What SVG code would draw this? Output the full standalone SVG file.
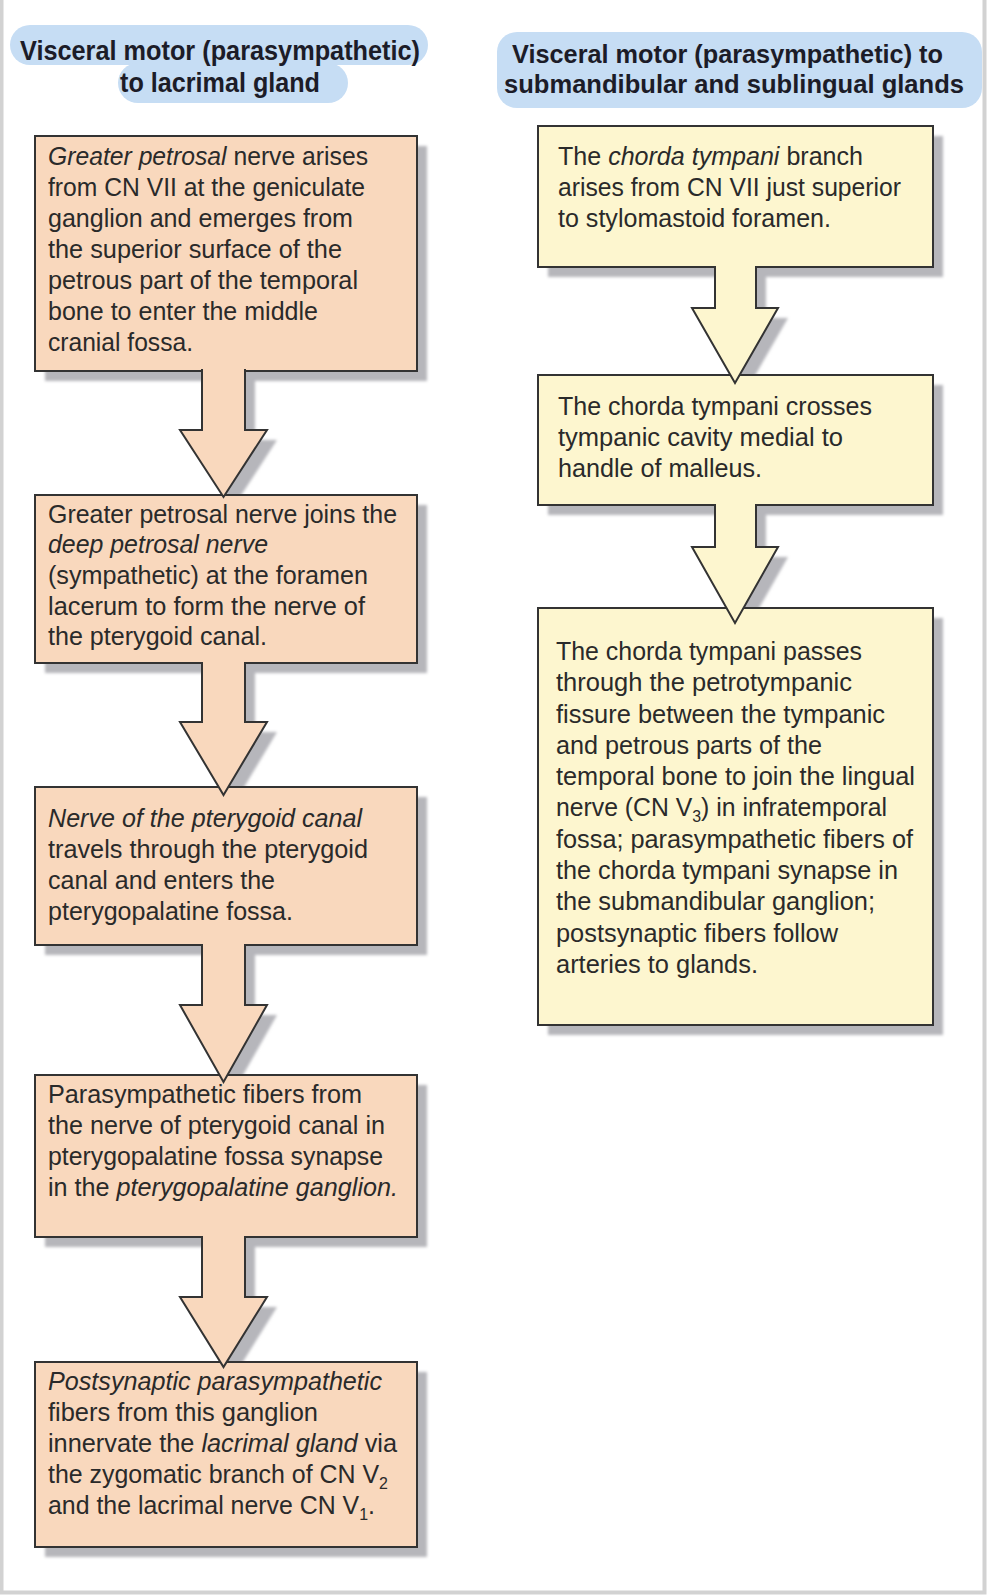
<svg xmlns="http://www.w3.org/2000/svg" width="988" height="1596" viewBox="0 0 988 1596">
<style>
.t{font-family:"Liberation Sans",Arial,sans-serif;font-size:25px;fill:#2a2a2a}
.h{font-family:"Liberation Sans",Arial,sans-serif;font-size:28px;font-weight:bold;fill:#1c1c28}
.h2{font-size:26.5px}
.i{font-style:italic}
.pk{fill:#f9d8bd;stroke:#333;stroke-width:2}
.yl{fill:#fdf6cf;stroke:#333;stroke-width:2}
.sh{fill:#b6b6bb}
.hd{fill:#c6ddf4}
.sub{font-size:16px}
</style>
<defs>
<filter id="blur" x="-5%" y="-5%" width="110%" height="110%"><feGaussianBlur stdDeviation="1.5"/></filter>
</defs>
<rect width="988" height="1596" fill="#ffffff"/>
<path d="M1.5,0 V1592.5 H984.5 V0" fill="none" stroke="#d2d2d2" stroke-width="4"/>

<g id="shadows" filter="url(#blur)">
<rect class="sh" x="45" y="146" width="382" height="235"/>
<rect class="sh" x="45" y="505" width="382" height="168"/>
<rect class="sh" x="45" y="797" width="382" height="158"/>
<rect class="sh" x="45" y="1085" width="382" height="162"/>
<rect class="sh" x="45" y="1372" width="382" height="185"/>
<rect class="sh" x="548" y="136" width="395" height="141"/>
<rect class="sh" x="548" y="385" width="395" height="130"/>
<rect class="sh" x="548" y="618" width="395" height="417"/>
<path class="sh" d="M212,380 V440 H190 L233.5,507 L277,440 H255 V380 Z"/>
<path class="sh" d="M212,673 V732 H190 L233.5,805 L277,732 H255 V673 Z"/>
<path class="sh" d="M212,955 V1015 H190 L233.5,1092 L277,1015 H255 V955 Z"/>
<path class="sh" d="M212,1247 V1307 H190 L233.5,1377 L277,1307 H255 V1247 Z"/>
<path class="sh" d="M725,277 V318 H702 L745,393 L788,318 H766 V277 Z"/>
<path class="sh" d="M725,515 V557 H702 L745,633 L788,557 H766 V515 Z"/>
</g>

<g id="header-left">
<rect class="hd" x="10" y="25" width="418" height="40" rx="20"/>
<rect class="hd" x="118" y="63" width="230" height="40" rx="20"/>
<text class="h" x="20" y="60" textLength="400" lengthAdjust="spacingAndGlyphs">Visceral motor (parasympathetic)</text>
<text class="h" x="120" y="92" textLength="200" lengthAdjust="spacingAndGlyphs">to lacrimal gland</text>
</g>

<g id="header-right">
<rect class="hd" x="497" y="32" width="485" height="76" rx="20"/>
<text class="h h2" x="512" y="63" textLength="431" lengthAdjust="spacingAndGlyphs">Visceral motor (parasympathetic) to</text>
<text class="h h2" x="504" y="93" textLength="460" lengthAdjust="spacingAndGlyphs">submandibular and sublingual glands</text>
</g>

<g id="L1">
<rect class="pk" x="35" y="136" width="382" height="235"/>
<text class="t" x="48" y="165" textLength="320" lengthAdjust="spacingAndGlyphs"><tspan class="i">Greater petrosal</tspan> nerve arises</text>
<text class="t" x="48" y="196" textLength="317" lengthAdjust="spacingAndGlyphs">from CN VII at the geniculate</text>
<text class="t" x="48" y="227" textLength="305" lengthAdjust="spacingAndGlyphs">ganglion and emerges from</text>
<text class="t" x="48" y="258" textLength="294" lengthAdjust="spacingAndGlyphs">the superior surface of the</text>
<text class="t" x="48" y="289" textLength="310" lengthAdjust="spacingAndGlyphs">petrous part of the temporal</text>
<text class="t" x="48" y="320" textLength="270" lengthAdjust="spacingAndGlyphs">bone to enter the middle</text>
<text class="t" x="48" y="351" textLength="145" lengthAdjust="spacingAndGlyphs">cranial fossa.</text>
</g>

<g id="L2">
<rect class="pk" x="35" y="495" width="382" height="168"/>
<text class="t" x="48" y="523" textLength="349" lengthAdjust="spacingAndGlyphs">Greater petrosal nerve joins the</text>
<text class="t i" x="48" y="553" textLength="220" lengthAdjust="spacingAndGlyphs">deep petrosal nerve</text>
<text class="t" x="48" y="584" textLength="320" lengthAdjust="spacingAndGlyphs">(sympathetic) at the foramen</text>
<text class="t" x="48" y="615" textLength="317" lengthAdjust="spacingAndGlyphs">lacerum to form the nerve of</text>
<text class="t" x="48" y="645" textLength="219" lengthAdjust="spacingAndGlyphs">the pterygoid canal.</text>
</g>

<g id="L3">
<rect class="pk" x="35" y="787" width="382" height="158"/>
<text class="t i" x="48" y="827" textLength="314" lengthAdjust="spacingAndGlyphs">Nerve of the pterygoid canal</text>
<text class="t" x="48" y="858" textLength="320" lengthAdjust="spacingAndGlyphs">travels through the pterygoid</text>
<text class="t" x="48" y="889" textLength="227" lengthAdjust="spacingAndGlyphs">canal and enters the</text>
<text class="t" x="48" y="920" textLength="245" lengthAdjust="spacingAndGlyphs">pterygopalatine fossa.</text>
</g>

<g id="L4">
<rect class="pk" x="35" y="1075" width="382" height="162"/>
<text class="t" x="48" y="1103" textLength="314" lengthAdjust="spacingAndGlyphs">Parasympathetic fibers from</text>
<text class="t" x="48" y="1134" textLength="337" lengthAdjust="spacingAndGlyphs">the nerve of pterygoid canal in</text>
<text class="t" x="48" y="1165" textLength="335" lengthAdjust="spacingAndGlyphs">pterygopalatine fossa synapse</text>
<text class="t" x="48" y="1196" textLength="350" lengthAdjust="spacingAndGlyphs">in the <tspan class="i">pterygopalatine ganglion.</tspan></text>
</g>

<g id="L5">
<rect class="pk" x="35" y="1362" width="382" height="185"/>
<text class="t i" x="48" y="1390" textLength="334" lengthAdjust="spacingAndGlyphs">Postsynaptic parasympathetic</text>
<text class="t" x="48" y="1421" textLength="270" lengthAdjust="spacingAndGlyphs">fibers from this ganglion</text>
<text class="t" x="48" y="1452" textLength="349" lengthAdjust="spacingAndGlyphs">innervate the <tspan class="i">lacrimal gland</tspan> via</text>
<text class="t" x="48" y="1483" textLength="340" lengthAdjust="spacingAndGlyphs">the zygomatic branch of CN V<tspan class="sub" dy="6">2</tspan></text>
<text class="t" x="48" y="1514" textLength="327" lengthAdjust="spacingAndGlyphs">and the lacrimal nerve CN V<tspan class="sub" dy="6">1</tspan><tspan dy="-6">.</tspan></text>
</g>

<g id="R1">
<rect class="yl" x="538" y="126" width="395" height="141"/>
<text class="t" x="558" y="165" textLength="305" lengthAdjust="spacingAndGlyphs">The <tspan class="i">chorda tympani</tspan> branch</text>
<text class="t" x="558" y="196" textLength="343" lengthAdjust="spacingAndGlyphs">arises from CN VII just superior</text>
<text class="t" x="558" y="227" textLength="273" lengthAdjust="spacingAndGlyphs">to stylomastoid foramen.</text>
</g>

<g id="R2">
<rect class="yl" x="538" y="375" width="395" height="130"/>
<text class="t" x="558" y="415" textLength="314" lengthAdjust="spacingAndGlyphs">The chorda tympani crosses</text>
<text class="t" x="558" y="446" textLength="285" lengthAdjust="spacingAndGlyphs">tympanic cavity medial to</text>
<text class="t" x="558" y="477" textLength="204" lengthAdjust="spacingAndGlyphs">handle of malleus.</text>
</g>

<g id="R3">
<rect class="yl" x="538" y="608" width="395" height="417"/>
<text class="t" x="556" y="660" textLength="306" lengthAdjust="spacingAndGlyphs">The chorda tympani passes</text>
<text class="t" x="556" y="691" textLength="296" lengthAdjust="spacingAndGlyphs">through the petrotympanic</text>
<text class="t" x="556" y="723" textLength="329" lengthAdjust="spacingAndGlyphs">fissure between the tympanic</text>
<text class="t" x="556" y="754" textLength="266" lengthAdjust="spacingAndGlyphs">and petrous parts of the</text>
<text class="t" x="556" y="785" textLength="359" lengthAdjust="spacingAndGlyphs">temporal bone to join the lingual</text>
<text class="t" x="556" y="816" textLength="331" lengthAdjust="spacingAndGlyphs">nerve (CN V<tspan class="sub" dy="6">3</tspan><tspan dy="-6">) in infratemporal</tspan></text>
<text class="t" x="556" y="848" textLength="357" lengthAdjust="spacingAndGlyphs">fossa; parasympathetic fibers of</text>
<text class="t" x="556" y="879" textLength="342" lengthAdjust="spacingAndGlyphs">the chorda tympani synapse in</text>
<text class="t" x="556" y="910" textLength="319" lengthAdjust="spacingAndGlyphs">the submandibular ganglion;</text>
<text class="t" x="556" y="942" textLength="282" lengthAdjust="spacingAndGlyphs">postsynaptic fibers follow</text>
<text class="t" x="556" y="973" textLength="202" lengthAdjust="spacingAndGlyphs">arteries to glands.</text>
</g>

<g id="connectors">
<path class="pk" d="M202,369 V430 H180 L223.5,497 L267,430 H245 V369"/>
<path class="pk" d="M202,662 V722 H180 L223.5,795 L267,722 H245 V662"/>
<path class="pk" d="M202,944 V1005 H180 L223.5,1082 L267,1005 H245 V944"/>
<path class="pk" d="M202,1236 V1297 H180 L223.5,1367 L267,1297 H245 V1236"/>
<path class="yl" d="M715,266 V308 H692 L735,383 L778,308 H756 V266"/>
<path class="yl" d="M715,504 V547 H692 L735,623 L778,547 H756 V504"/>
</g>
</svg>
